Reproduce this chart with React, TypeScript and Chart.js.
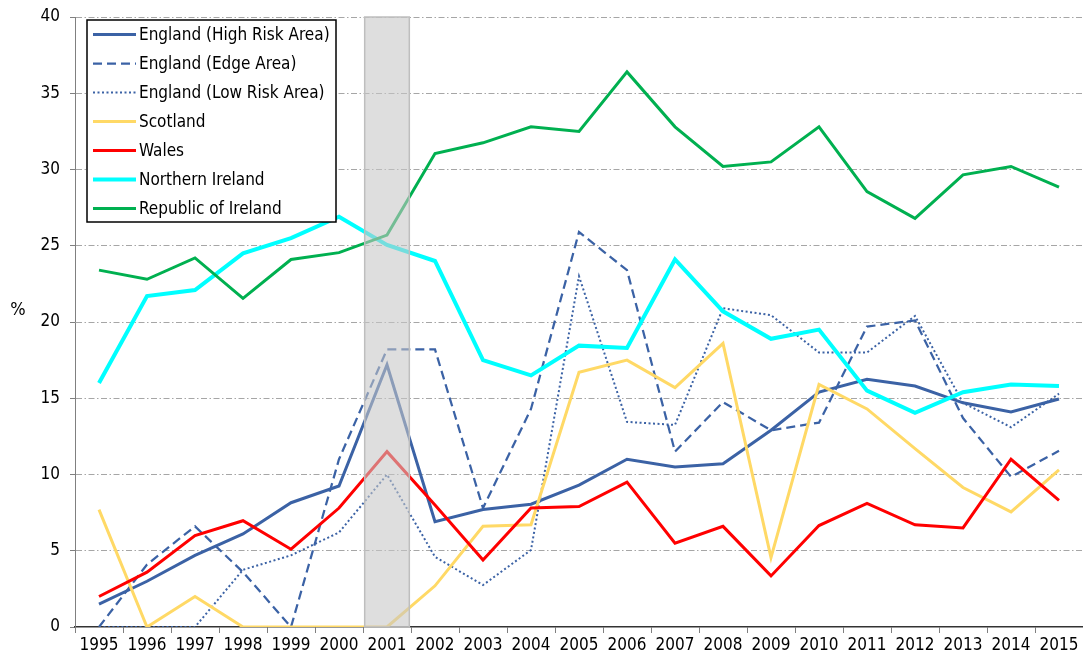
import React, { useEffect, useRef } from "react";
import { Chart, registerables } from "chart.js";

Chart.register(...registerables);

const years = ["1995","1996","1997","1998","1999","2000","2001","2002","2003","2004","2005","2006","2007","2008","2009","2010","2011","2012","2013","2014","2015"];

const englandHigh = [1.5, 3.0, 4.7, 6.1, 8.15, 9.25, 17.2, 6.9, 7.7, 8.05, 9.3, 11.0, 10.5, 10.7, 12.9, 15.4, 16.25, 15.8, 14.7, 14.1, 14.95];
const englandEdge = [0, 4.1, 6.6, 3.6, 0, 11.0, 18.2, 18.2, 7.8, 14.3, 25.9, 23.4, 11.5, 14.75, 12.9, 13.4, 19.7, 20.1, 13.7, 9.85, 11.55];
const englandLow = [0, 0, 0, 3.75, 4.7, 6.2, 10.0, 4.6, 2.75, 5.05, 23.0, 13.45, 13.25, 20.9, 20.45, 18.0, 18.0, 20.4, 14.7, 13.1, 15.3];
const scotland = [7.7, 0, 2.0, 0, 0, 0, 0, 2.7, 6.6, 6.7, 16.7, 17.5, 15.7, 18.6, 4.55, 15.9, 14.3, 11.7, 9.15, 7.55, 10.3];
const wales = [2.0, 3.6, 6.0, 6.97, 5.1, 7.8, 11.5, 8.0, 4.4, 7.8, 7.9, 9.5, 5.5, 6.6, 3.35, 6.65, 8.1, 6.7, 6.5, 11.0, 8.3];
const northernIreland = [16.0, 21.7, 22.1, 24.5, 25.5, 26.9, 25.05, 24.0, 17.5, 16.5, 18.45, 18.3, 24.1, 20.7, 18.9, 19.5, 15.5, 14.05, 15.4, 15.9, 15.8];
const republicOfIreland = [23.4, 22.8, 24.2, 21.55, 24.1, 24.55, 25.7, 31.05, 31.75, 32.8, 32.5, 36.4, 32.8, 30.2, 30.5, 32.8, 28.55, 26.8, 29.65, 30.2, 28.85];

const seriesNames = ["England (High Risk Area)", "England (Edge Area)", "England (Low Risk Area)", "Scotland", "Wales", "Northern Ireland", "Republic of Ireland"];
const yTicks = [0, 5, 10, 15, 20, 25, 30, 35, 40];
const highlightYear = "2001";
const yAxisLabel = "%";

const FONT = "'DejaVu Sans Condensed', 'DejaVu Sans', 'Liberation Sans', sans-serif";

const bandPlugin = {
  id: "band",
  afterDatasetsDraw(chart: any) {
    const x = chart.scales.x;
    const area = chart.chartArea;
    const idx = years.indexOf(highlightYear);
    const c = x.getPixelForValue(idx);
    const half = (x.getPixelForValue(1) - x.getPixelForValue(0)) / 2 * 0.93;
    const ctx = chart.ctx;
    ctx.save();
    ctx.fillStyle = "rgba(198,198,198,0.58)";
    ctx.fillRect(c - half, area.top, half * 2, area.bottom - area.top);
    ctx.strokeStyle = "#BEBEBE";
    ctx.lineWidth = 1.5;
    ctx.strokeRect(c - half, area.top, half * 2, area.bottom - area.top);
    ctx.restore();
  },
};

const legendPlugin = {
  id: "boxLegend",
  afterDraw(chart: any) {
    const ctx = chart.ctx;
    const left = 87;
    const top = 20;
    const w = 249;
    const h = 202;
    ctx.save();
    ctx.fillStyle = "#FFFFFF";
    ctx.fillRect(left, top, w, h);
    ctx.strokeStyle = "#000000";
    ctx.lineWidth = 1.5;
    ctx.strokeRect(left, top, w, h);
    chart.data.datasets.forEach((ds: any, i: number) => {
      const y = top + 14.5 + i * 29;
      ctx.save();
      ctx.strokeStyle = ds.borderColor;
      ctx.lineWidth = ds.borderWidth;
      ctx.setLineDash(ds.borderDash || []);
      ctx.beginPath();
      ctx.moveTo(left + 6, y);
      ctx.lineTo(left + 49, y);
      ctx.stroke();
      ctx.restore();
      ctx.fillStyle = "#000000";
      ctx.font = `17px ${FONT}`;
      ctx.textAlign = "left";
      ctx.textBaseline = "middle";
      ctx.fillText(ds.label, left + 52, y + 1);
    });
    ctx.restore();
  },
};

const axisLabelPlugin = {
  id: "axisLabel",
  afterDraw(chart: any) {
    const ctx = chart.ctx;
    const area = chart.chartArea;
    ctx.save();
    ctx.fillStyle = "#000000";
    ctx.font = `18px ${FONT}`;
    ctx.textAlign = "center";
    ctx.textBaseline = "middle";
    ctx.fillText(yAxisLabel, 18, (area.top + area.bottom) / 2 - 12);
    ctx.restore();
  },
};

export default function App() {
  const ref = useRef<HTMLCanvasElement>(null);
  useEffect(() => {
    if (!ref.current) return;
    const mk = (i: number, data: number[], color: string, width: number, dash?: number[]) => ({
      label: seriesNames[i],
      data,
      borderColor: color,
      backgroundColor: color,
      borderWidth: width,
      borderDash: dash || [],
      borderCapStyle: "butt",
      borderJoinStyle: "miter",
      pointRadius: 0,
      tension: 0,
      fill: false,
      order: 10 - i,
    });
    const chart = new Chart(ref.current, {
      type: "line",
      data: {
        labels: years,
        datasets: [
          mk(0, englandHigh, "#3B62A5", 3),
          mk(1, englandEdge, "#3B62A5", 2.25, [9, 5]),
          mk(2, englandLow, "#3B62A5", 2, [2, 2.5]),
          mk(3, scotland, "#FFD966", 3),
          mk(4, wales, "#FF0000", 3),
          mk(5, northernIreland, "#00FFFF", 4),
          mk(6, republicOfIreland, "#00B050", 3),
        ] as any,
      },
      options: {
        responsive: false,
        animation: false,
        devicePixelRatio: 1,
        layout: { padding: { top: 17, right: 0, left: 0, bottom: 0 } },
        plugins: { legend: { display: false }, tooltip: { enabled: false }, title: { display: false } },
        scales: {
          x: {
            type: "category",
            offset: true,
            afterFit: (s: any) => { s.height = 33; s.paddingLeft = 0; s.paddingRight = 0; },
            grid: { display: true, offset: true, drawOnChartArea: false, drawTicks: true, tickLength: 6, tickColor: "#808080", tickWidth: 1 },
            border: { display: true, color: "#333333", width: 1.5 },
            ticks: { color: "#000000", font: { family: FONT, size: 17 }, padding: 2, maxRotation: 0, autoSkip: false },
          },
          y: {
            min: 0,
            max: 40,
            afterFit: (s: any) => { s.width = 75; s.paddingTop = 0; s.paddingBottom = 0; },
            afterBuildTicks: (s: any) => { s.ticks = yTicks.map((v) => ({ value: v })); },
            grid: {
              display: true,
              drawTicks: true,
              tickLength: 5,
              tickColor: "#808080",
              tickBorderDash: [],
              color: (c: any) => (c.tick && c.tick.value === 0 ? "rgba(0,0,0,0)" : "#A6A6A6"),
              lineWidth: 1,
            },
            border: { display: true, color: "#808080", width: 1, dash: [6, 2.5, 1.5, 2.5] },
            ticks: { color: "#000000", font: { family: FONT, size: 17 }, padding: 10 },
          },
        },
      } as any,
      plugins: [bandPlugin, legendPlugin, axisLabelPlugin],
    });
    return () => chart.destroy();
  }, []);
  return (
    <div style={{ position: "fixed", left: 0, top: 0, width: 1083, height: 660, background: "#fff" }}>
      <canvas ref={ref} width={1083} height={660} style={{ display: "block" }} />
    </div>
  );
}
